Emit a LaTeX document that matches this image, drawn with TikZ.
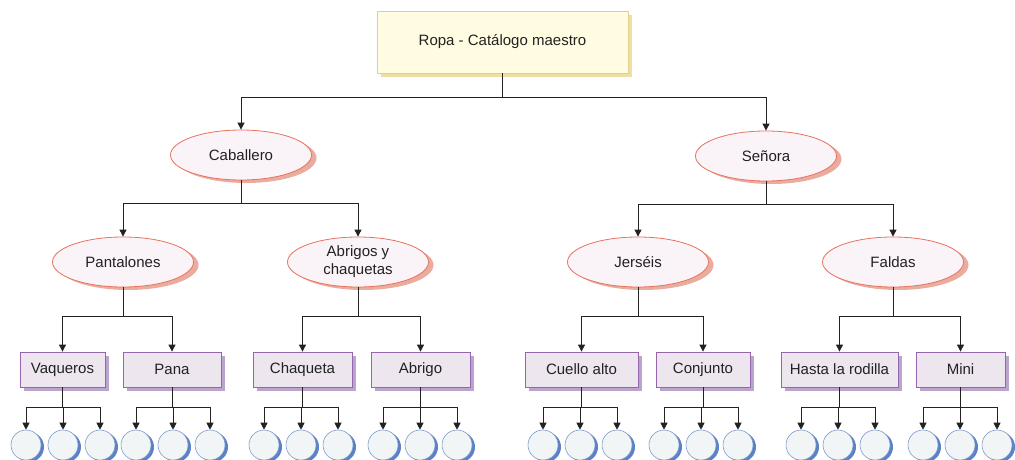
\documentclass[tikz,border=0pt]{standalone}
\usepackage{fontspec}
\setmainfont{Liberation Sans}
\usepackage{xcolor}
\usetikzlibrary{arrows.meta,shapes.geometric,shadows}
\definecolor{ink}{HTML}{222222}
\definecolor{yelbg}{HTML}{FFFCE2}
\definecolor{yeldraw}{HTML}{E2D08A}
\definecolor{yelshade}{HTML}{EEDFA6}
\definecolor{pinkbg}{HTML}{FAF3F7}
\definecolor{pinkdraw}{HTML}{E8735E}
\definecolor{pinkshade}{HTML}{E9AC9E}
\definecolor{lilabg}{HTML}{EDE6EF}
\definecolor{liladraw}{HTML}{9466AE}
\definecolor{lilashade}{HTML}{BBA5CF}
\definecolor{leafbg}{HTML}{F1F5F5}
\definecolor{leafdraw}{HTML}{7D9BCB}
\definecolor{leafshade}{HTML}{5B82C6}
\tikzset{
  master/.style={draw=yeldraw,fill=yelbg,line width=0.8pt,
                 minimum width=251pt,minimum height=62pt,inner sep=0pt,
                 font=\fontsize{15}{18}\selectfont,text=ink,
                 drop shadow={shadow xshift=4pt,shadow yshift=-4pt,fill=yelshade,opacity=1}},
  group/.style={ellipse,draw=pinkdraw,fill=pinkbg,line width=0.8pt,
                minimum width=141pt,minimum height=50pt,inner sep=0pt,
                align=center,font=\fontsize{15}{18}\selectfont,text=ink,
                drop shadow={shadow xshift=5pt,shadow yshift=-3pt,fill=pinkshade,opacity=1}},
  item/.style={draw=liladraw,fill=lilabg,line width=0.8pt,
               minimum height=35pt,inner sep=0pt,
               font=\fontsize{15}{18}\selectfont,text=ink,
               drop shadow={shadow xshift=4pt,shadow yshift=-4pt,fill=lilashade,opacity=1}},
  leaf/.style={circle,draw=leafdraw,fill=leafbg,line width=0.6pt,
               minimum size=30pt,inner sep=0pt,
               drop shadow={shadow xshift=3pt,shadow yshift=-2pt,fill=leafshade,opacity=1}},
  treearr/.style={-{Triangle[length=7pt,width=7pt]},line width=0.9pt,draw=ink}
}

\begin{document}
\begin{tikzpicture}[x=1pt,y=-1pt]
  \useasboundingbox (0,0) rectangle (1015,460);
  % root
  \node[master] (cat) at (502.5,42) {Ropa - Catálogo maestro};
  % first level
  \node[group] (cab) at (241,155) {Caballero};
  \node[group] (sen) at (766,156) {Señora};
  \foreach \c in {cab,sen}
    \draw[treearr] (cat.south) -- ++(0,24) -| (\c.north);
  % second level
  \node[group] (pan) at (123,262) {Pantalones};
  \node[group] (abr) at (358,262) {Abrigos y\\chaquetas};
  \node[group] (jer) at (638,262) {Jerséis};
  \node[group] (fal) at (893,262) {Faldas};
  \foreach \p/\c in {cab/pan,cab/abr,sen/jer,sen/fal}
    \draw[treearr] (\p.south) -- ++(0,23) -| (\c.north);
  % product boxes
  \foreach \n/\x/\w/\t in {vaq/62.5/85/Vaqueros,pana/172/98/Pana,
      chq/302.5/99/Chaqueta,abg/420.5/99/Abrigo,
      cue/581.5/113/Cuello alto,con/703/94/Conjunto,
      has/839.5/117/Hasta la rodilla,mini/960.5/89/Mini}
    \node[item,minimum width=\w pt] (\n) at (\x,369.5) {\t};
  \foreach \p/\c in {pan/vaq,pan/pana,abr/chq,abr/abg,
      jer/cue,jer/con,fal/has,fal/mini}
    \draw[treearr] (\p.south) -- ++(0,29) -| (\c.north);
  % three items under each box
  \foreach \b/\x in {vaq/63,pana/173,chq/301,abg/420,
      cue/580,con/701,has/838,mini/960} {
    \foreach \k/\dx in {1/-37,2/0,3/37} {
      \node[leaf] (\b\k) at ({\x+(\dx)},445) {};
      \draw[treearr] (\b.south) -- ++(0,20) -| (\b\k.north);
    }
  }
\end{tikzpicture}
\end{document}
